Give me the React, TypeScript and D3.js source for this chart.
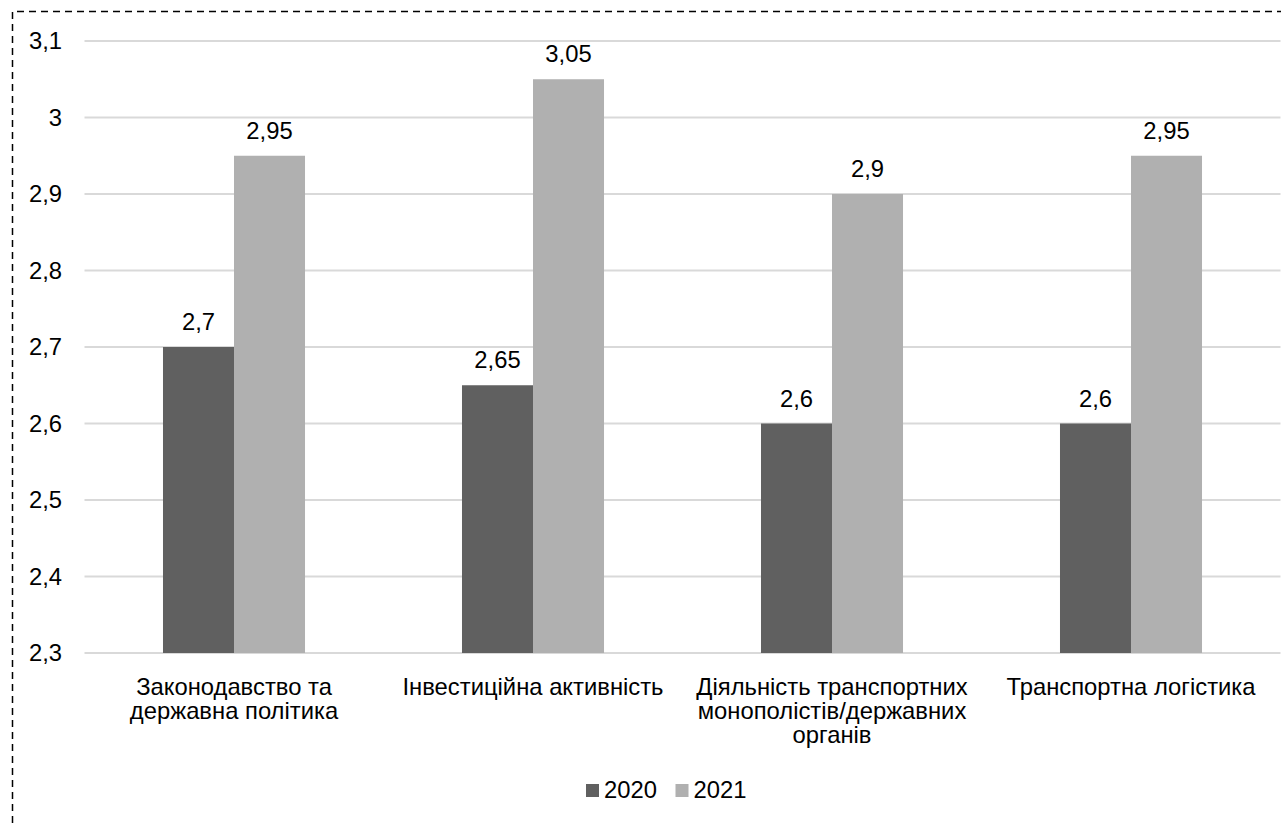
import React from "react";
import * as d3 from "d3";

const categories: string[][] = [
  ["Законодавство та", "державна політика"],
  ["Інвестиційна активність"],
  ["Діяльність транспортних", "монополістів/державних", "органів"],
  ["Транспортна логістика"],
];
const seriesNames = ["2020", "2021"];
const values2020 = [2.7, 2.65, 2.6, 2.6];
const values2021 = [2.95, 3.05, 2.9, 2.95];
const yTicks = [2.3, 2.4, 2.5, 2.6, 2.7, 2.8, 2.9, 3.0, 3.1];
const colors = ["#606060", "#b0b0b0"];

const fmt = (v: number) => String(+v.toFixed(2)).replace(".", ",");

export default function App() {
  const W = 1281, H = 823;
  const left = 84.5, right = 1280.5, top = 41, bottom = 653;
  const fs = 23.8;
  const x0 = d3.scaleBand<number>().domain(d3.range(categories.length)).range([left, right]).paddingInner(0.525).paddingOuter(0.2625);
  const x1 = d3.scaleBand<string>().domain(seriesNames).range([0, x0.bandwidth()]);
  const y = d3.scaleLinear().domain([2.3, 3.1]).range([bottom, top]);
  const series = [values2020, values2021];
  const font = "'Liberation Sans', Arial, sans-serif";
  return (
    <svg width={W} height={H} style={{ position: "absolute", left: 0, top: 0 }} fontFamily={font}>
      <rect x={0} y={0} width={W} height={H} fill="#fff" />
      <path d={`M12.5,${H} V11.5 H${W}`} fill="none" stroke="#000" strokeWidth={1.5} strokeDasharray="7,5" />
      {yTicks.map((t) => (
        <g key={t}>
          <line x1={left} x2={right} y1={y(t)} y2={y(t)} stroke="#d9d9d9" strokeWidth={2} />
          <text x={62} y={y(t) + 8} textAnchor="end" fontSize={fs} fill="#000">{fmt(t)}</text>
        </g>
      ))}
      {categories.map((c, i) => (
        <g key={i} transform={`translate(${x0(i)},0)`}>
          {seriesNames.map((s, j) => {
            const v = series[j][i];
            const bx = x1(s)!;
            return (
              <g key={s}>
                <rect x={bx} y={y(v)} width={x1.bandwidth()} height={bottom - y(v)} fill={colors[j]} />
                <text x={bx + x1.bandwidth() / 2} y={y(v) - 17} textAnchor="middle" fontSize={fs} fill="#000">{fmt(v)}</text>
              </g>
            );
          })}
          {c.map((line, k) => (
            <text key={k} x={x0.bandwidth() / 2} y={695 + k * 24} textAnchor="middle" fontSize={fs} fill="#000">{line}</text>
          ))}
        </g>
      ))}
      <g>
        {seriesNames.map((s, j) => {
          const lx = 586 + j * 89.5;
          return (
            <g key={s}>
              <rect x={lx} y={784} width={13} height={13} fill={colors[j]} />
              <text x={lx + 18} y={797.5} fontSize={fs} fill="#000">{s}</text>
            </g>
          );
        })}
      </g>
    </svg>
  );
}
